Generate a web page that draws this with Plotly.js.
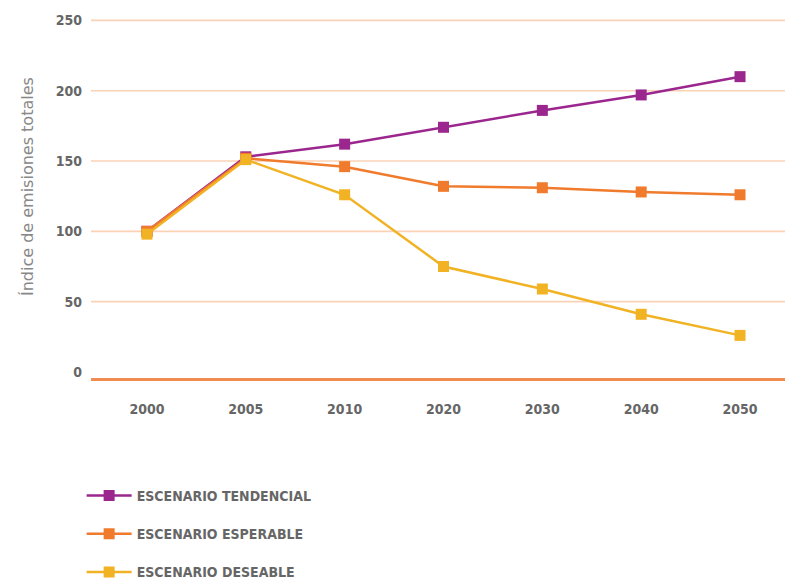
<!DOCTYPE html>
<html><head><meta charset="utf-8">
<script src="https://cdn.plot.ly/plotly-3.0.1.min.js"></script>
<style>html,body{margin:0;padding:0;background:#fff}#chart{width:785px;height:580px}</style>
</head><body><div id="chart"></div>
<script>
const years = ["2000","2005","2010","2020","2030","2040","2050"];
const tendencial = [100, 153, 162, 174, 186, 197, 210];
const esperable = [100, 152, 146, 132, 131, 128, 126];
const deseable = [98, 151, 126, 75, 59, 41, 26];
const seriesNames = ["ESCENARIO TENDENCIAL", "ESCENARIO ESPERABLE", "ESCENARIO DESEABLE"];
const yTicks = [0, 50, 100, 150, 200, 250];
const yTitle = "Índice de emisiones totales";

const FONT = "'DejaVu Sans Condensed', 'DejaVu Sans', sans-serif";
const colors = ["#9a268e", "#f07b2c", "#f1b224"];
const data = [tendencial, esperable, deseable].map((v, i) => ({
  type: "scatter", mode: "lines+markers", x: years, y: v, name: seriesNames[i],
  legendgroup: "g" + i,
  line: {color: colors[i], width: 2.5},
  marker: {symbol: "square", size: 11, color: colors[i]}
}));
const gridShapes = yTicks.filter(v => v > 0).map(v => ({
  type: "line", xref: "paper", x0: 0, x1: 1, yref: "y", y0: v, y1: v,
  layer: "below", line: {color: "#fbd2b6", width: 1.6}
}));
const layout = {
  width: 785, height: 580,
  margin: {l: 91, r: 0, t: 19, b: 202, autoexpand: false},
  paper_bgcolor: "#fff", plot_bgcolor: "#fff",
  font: {family: FONT, color: "#666", size: 13},
  showlegend: true,
  shapes: gridShapes,
  annotations: [{text: yTitle, textangle: -90, xref: "paper", yref: "paper",
    x: -0.0922, y: 0.532, xanchor: "center", yanchor: "middle", showarrow: false,
    font: {family: "'DejaVu Sans', sans-serif", size: 16, color: "#888"}}],
  legend: {x: -0.0135, xanchor: "left", y: -0.284, yanchor: "top", tracegroupgap: 17, itemwidth: 45,
    font: {family: FONT, size: 14, color: "#666", weight: "bold"}, bgcolor: "rgba(0,0,0,0)"},
  xaxis: {type: "category", range: [-0.566, 6.455], showgrid: false, zeroline: false,
    showline: true, linecolor: "#f08c50", linewidth: 2.5, ticks: "", ticklabelstandoff: 17,
    tickfont: {family: FONT, size: 14, color: "#666", weight: "bold"}},
  yaxis: {range: [-4.3, 251], tickvals: yTicks, showgrid: false,
    zeroline: false, showline: false, ticks: "",
    ticklabelstandoff: 8, tickfont: {family: FONT, size: 14, color: "#666", weight: "bold"}}
};
Plotly.newPlot("chart", data, layout, {displayModeBar: false, staticPlot: true});
</script></body></html>
